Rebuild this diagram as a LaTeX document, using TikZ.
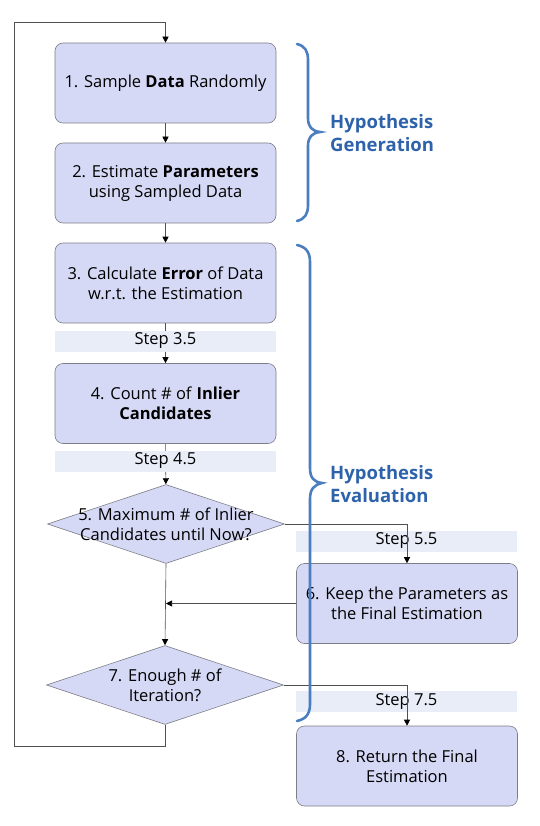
\documentclass[tikz,border=0pt]{standalone}
\usepackage{fontspec}
\setmainfont{Open Sans}
\usetikzlibrary{arrows.meta,shapes.geometric}
\definecolor{boxfill}{RGB}{214,217,245}
\definecolor{boxline}{RGB}{125,125,135}
\definecolor{stepfill}{RGB}{233,237,247}
\definecolor{bracecol}{RGB}{74,126,192}
\definecolor{labelcol}{RGB}{46,99,171}
\definecolor{linecol}{RGB}{80,80,80}
\begin{document}
\begin{tikzpicture}[x=1pt,y=-1pt,
  procbox/.style={draw=boxline, fill=boxfill, rounded corners=8pt, minimum width=221pt, minimum height=80pt, align=center, font=\fontsize{16.5}{20}\selectfont, line width=0.6pt, inner sep=0pt},
  stepbar/.style={fill=stepfill, minimum width=221pt, minimum height=21pt, inner sep=0pt, font=\fontsize{16.5}{18}\selectfont},
  decision/.style={draw=boxline, fill=boxfill, shape=diamond, minimum width=237pt, minimum height=79pt, inner sep=0pt, line width=0.6pt},
  dtext/.style={align=center, font=\fontsize{16.5}{20}\selectfont, inner sep=0pt},
  arr/.style={draw=linecol, line width=0.6pt, -{Triangle[width=6pt,length=6pt,color=black]}},
  brace/.style={draw=bracecol, line width=2.6pt, line cap=round},
  grouplabel/.style={text=labelcol, font=\bfseries\fontsize{18.5}{23}\selectfont, align=left, anchor=west, inner sep=0pt}
]
\useasboundingbox (0,0) rectangle (539,826);
% process boxes
\node[procbox] (b1) at (165.5,83) {1. Sample \textbf{Data} Randomly};
\node[procbox] (b2) at (165.5,183) {2. Estimate \textbf{Parameters}\\using Sampled Data};
\node[procbox] (b3) at (165.5,283) {3. Calculate \textbf{Error} of Data\\w.r.t. the Estimation};
\node[procbox] (b4) at (165.5,403.5) {4. Count \# of \textbf{Inlier}\\\textbf{Candidates}};
\node[decision] (d5) at (166,524) {};
\node[dtext] at (d5) {5. Maximum \# of Inlier\\Candidates until Now?};
\node[procbox] (b6) at (407,603.5) {6. Keep the Parameters as\\the Final Estimation};
\node[decision] (d7) at (165,685) {};
\node[dtext] at (d7) {7. Enough \# of\\Iteration?};
\node[procbox] (b8) at (407,766) {8. Return the Final\\Estimation};
% steps on the right
\node[stepbar] (s55) at (406.5,541) {Step 5.5};
\node[stepbar] (s75) at (406.5,701.5) {Step 7.5};
% connectors
\coordinate (lb) at (14,746);
\coordinate (lt) at (14,22);
\draw[arr] (b1) -- (b2);
\draw[arr] (b2) -- (b3);
\draw[arr] (b3) -- (b4);
\draw[arr] (b4) -- (d5);
\draw[arr] (d5.east) -| (b6.north);
\draw[arr] (b6.west) -- (b6.west -| d5.south);
\draw[arr] (d5.south) -- (d7.north);
\draw[arr] (d7.east) -| (b8.north);
\draw[arr] (d7.south) |- (lb) -- (lt) -| (b1.north);
% step bars over the lines
\node[stepbar] (s35) at (165.5,341) {Step 3.5};
\node[stepbar] (s45) at (165.5,461) {Step 4.5};
% braces
\draw[brace] (297,44) .. controls (305,46) and (308,51) .. (308,60) -- (308,118) .. controls (308,127) and (312,131) .. (320,132) .. controls (312,133) and (308,137) .. (308,146) -- (308,205) .. controls (308,214) and (305,219) .. (297,221);
\draw[brace] (297,245) .. controls (306,247) and (310,252) .. (310,262) -- (310,468) .. controls (310,478) and (314,482) .. (322,483) .. controls (314,485) and (310,489) .. (310,499) -- (310,704) .. controls (310,714) and (306,719) .. (297,721);
\node[grouplabel] (lg) at (330,133) {Hypothesis\\Generation};
\node[grouplabel] (le) at (330,484) {Hypothesis\\Evaluation};
\end{tikzpicture}
\end{document}
